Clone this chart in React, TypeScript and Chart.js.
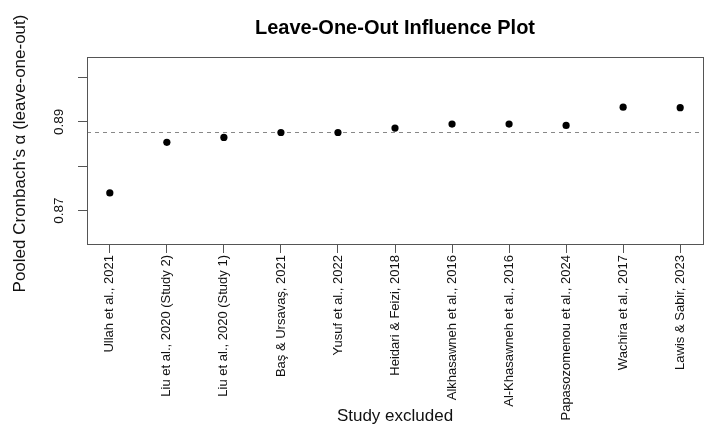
import React, { useEffect, useRef } from 'react';
import { Chart, registerables } from 'chart.js';

Chart.register(...registerables);

const studies = [
  'Ullah et al., 2021',
  'Liu et al., 2020 (Study 2)',
  'Liu et al., 2020 (Study 1)',
  'Baş & Ursavaş, 2021',
  'Yusuf et al., 2022',
  'Heidari & Feizi, 2018',
  'Alkhasawneh et al., 2016',
  'Al-Khasawneh et al., 2016',
  'Papasozomenou et al., 2024',
  'Wachira et al., 2017',
  'Lawis & Sabir, 2023',
];
const alphaLOO = [0.874, 0.8854, 0.8865, 0.8876, 0.8876, 0.8886, 0.8895, 0.8895, 0.8892, 0.8933, 0.8932];
const pooledAlpha = 0.8877;
const yTickValues = [0.87, 0.88, 0.89, 0.9];
const yTickLabels = ['0.87', '', '0.89', ''];
const titleText = 'Leave-One-Out Influence Plot';
const xTitle = 'Study excluded';
const yTitle = 'Pooled Cronbach\u2019s \u03b1 (leave-one-out)';

const FONT = '"Liberation Sans", Arial, Helvetica, sans-serif';
const AXIS_COLOR = '#555555';

const decorPlugin = {
  id: 'decor',
  beforeDatasetsDraw(chart: any) {
    const { ctx, chartArea } = chart;
    const ys = chart.scales.y;
    const py = Math.round(ys.getPixelForValue(pooledAlpha)) + 0.5;
    ctx.save();
    ctx.strokeStyle = '#888888';
    ctx.lineWidth = 1;
    ctx.setLineDash([4, 4]);
    ctx.beginPath();
    ctx.moveTo(chartArea.left, py);
    ctx.lineTo(chartArea.right, py);
    ctx.stroke();
    ctx.restore();
  },
  afterDraw(chart: any) {
    const { ctx, chartArea } = chart;
    const ys = chart.scales.y;
    ctx.save();
    // box
    ctx.strokeStyle = AXIS_COLOR;
    ctx.lineWidth = 1;
    ctx.setLineDash([]);
    const l = Math.round(chartArea.left) + 0.5;
    const t = Math.round(chartArea.top) + 0.5;
    const r = Math.round(chartArea.right) + 0.5;
    const b = Math.round(chartArea.bottom) + 0.5;
    ctx.strokeRect(l, t, r - l, b - t);

    const cx = (chartArea.left + chartArea.right) / 2;
    const cy = (chartArea.top + chartArea.bottom) / 2;

    // title
    ctx.fillStyle = '#000000';
    ctx.font = `bold 20px ${FONT}`;
    ctx.textAlign = 'center';
    ctx.textBaseline = 'alphabetic';
    ctx.fillText(titleText, cx, 34);

    // x title
    ctx.font = `17px ${FONT}`;
    ctx.fillStyle = '#111111';
    ctx.fillText(xTitle, cx, 421);

    // y title
    ctx.save();
    ctx.translate(25, cy + 3);
    ctx.rotate(-Math.PI / 2);
    ctx.fillText(yTitle, 0, 0);
    ctx.restore();

    // y tick labels (rotated)
    ctx.font = `13.5px ${FONT}`;
    yTickValues.forEach((v, i) => {
      const lab = yTickLabels[i];
      if (!lab) return;
      const p = ys.getPixelForValue(v);
      ctx.save();
      ctx.translate(63, p);
      ctx.rotate(-Math.PI / 2);
      ctx.textAlign = 'center';
      ctx.fillText(lab, 0, 0);
      ctx.restore();
    });
    ctx.restore();
  },
};

export default function App() {
  const ref = useRef<HTMLCanvasElement | null>(null);
  useEffect(() => {
    if (!ref.current) return;
    const chart = new Chart(ref.current, {
      type: 'scatter',
      data: {
        datasets: [
          {
            label: 'Leave-one-out alpha',
            data: alphaLOO.map((v, i) => ({ x: i + 1, y: v })),
            backgroundColor: '#000000',
            borderColor: '#000000',
            pointRadius: 3.6,
            pointHoverRadius: 3.6,
            borderWidth: 0,
          },
        ],
      },
      options: {
        responsive: false,
        animation: false,
        events: [],
        layout: { padding: { top: 57, right: 11, left: 0, bottom: 0 } },
        plugins: {
          legend: { display: false },
          title: { display: false },
          tooltip: { enabled: false },
        },
        scales: {
          x: {
            type: 'linear',
            min: 0.6,
            max: 11.4,
            afterBuildTicks: (scale: any) => {
              scale.ticks = studies.map((_, i) => ({ value: i + 1 }));
            },
            afterFit: (scale: any) => {
              scale.height = 189;
            },
            ticks: {
              autoSkip: false,
              minRotation: 90,
              maxRotation: 90,
              padding: 2,
              color: '#111111',
              font: { family: FONT, size: 13 },
              callback: (v: any) => studies[Math.round(Number(v)) - 1] ?? '',
            },
            grid: {
              drawOnChartArea: false,
              drawTicks: true,
              tickLength: 9,
              color: AXIS_COLOR,
              lineWidth: 1,
            },
            border: { display: false },
          },
          y: {
            type: 'linear',
            min: 0.8625,
            max: 0.9046,
            afterBuildTicks: (scale: any) => {
              scale.ticks = yTickValues.map((v) => ({ value: v }));
            },
            afterFit: (scale: any) => {
              scale.width = 87;
            },
            ticks: { display: false },
            grid: {
              drawOnChartArea: false,
              drawTicks: true,
              tickLength: 9,
              color: AXIS_COLOR,
              lineWidth: 1,
            },
            border: { display: false },
          },
        },
      },
      plugins: [decorPlugin],
    });
    return () => chart.destroy();
  }, []);
  return (
    <div style={{ position: 'fixed', left: 0, top: 0, width: 714, height: 433, background: '#fff' }}>
      <canvas ref={ref} width={714} height={433} style={{ display: 'block' }} />
    </div>
  );
}
